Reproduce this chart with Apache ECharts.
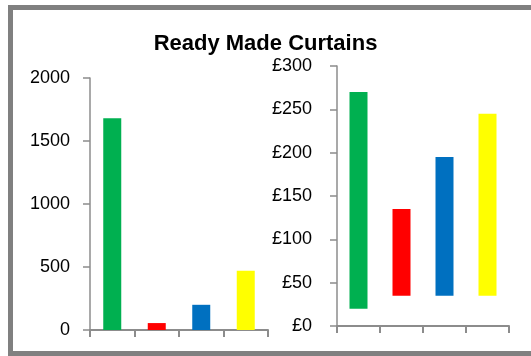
<!DOCTYPE html>
<html>
<head>
<meta charset="utf-8">
<script src="https://cdn.jsdelivr.net/npm/echarts@6/dist/echarts.min.js"></script>
<style>
  html, body { margin: 0; padding: 0; background: #fff; }
  #chart { width: 531px; height: 356px; }
</style>
</head>
<body>
<div id="chart"></div>
<script>
// Curtain categories (unlabelled on the axis) and their colours
const categories = ['A', 'B', 'C', 'D'];
const barColors = ['#00B050', '#FF0000', '#0070C0', '#FFFF00'];

// Left panel: quantities
const quantities = [1680, 55, 200, 470];
const qtyTicks = { min: 0, max: 2000, interval: 500 };

// Right panel: price ranges (low to high, in pounds)
const priceLow = [20, 35, 35, 35];
const priceHigh = [270, 135, 195, 245];
const priceTicks = { min: 0, max: 300, interval: 50 };

const priceSpan = priceHigh.map((h, i) => h - priceLow[i]);

const axisGray = '#8c8c8c';
const labelFont = { fontFamily: 'Liberation Sans, Arial, sans-serif', fontSize: 18, color: '#000' };

function yAxis(gridIndex, ticks, margin, formatter) {
  return {
    type: 'value', gridIndex,
    min: ticks.min, max: ticks.max, interval: ticks.interval,
    axisLine: { show: true, lineStyle: { color: axisGray, width: 1.5 } },
    axisTick: { show: true, length: 7, lineStyle: { color: axisGray, width: 1.5 } },
    splitLine: { show: false },
    axisLabel: Object.assign({ margin, formatter }, labelFont)
  };
}
function xAxis(gridIndex) {
  return {
    type: 'category', gridIndex, data: categories,
    axisLine: { show: true, lineStyle: { color: axisGray, width: 2 } },
    axisTick: { show: true, length: 7, alignWithLabel: false, lineStyle: { color: axisGray, width: 2 } },
    axisLabel: { show: false },
    splitLine: { show: false }
  };
}

const chart = echarts.init(document.getElementById('chart'), null, { renderer: 'canvas' });
chart.setOption({
  animation: false,
  backgroundColor: '#fff',
  title: {
    text: 'Ready Made Curtains',
    left: 'center', top: 28,
    textStyle: { fontFamily: 'Liberation Sans, Arial, sans-serif', fontWeight: 'bold', fontSize: 22, color: '#000' }
  },
  graphic: [{
    type: 'rect', silent: true, z: 100,
    shape: { x: 10.5, y: 7.5, width: 600, height: 346 },
    style: { fill: 'none', stroke: '#808080', lineWidth: 5 }
  }],
  grid: [
    { left: 90, right: 263, top: 78, bottom: 26 },
    { left: 337, right: 22, top: 66, bottom: 30 }
  ],
  xAxis: [xAxis(0), xAxis(1)],
  yAxis: [
    yAxis(0, qtyTicks, 20, v => String(v)),
    yAxis(1, priceTicks, 25, v => '£' + v)
  ],
  series: [
    {
      type: 'bar', xAxisIndex: 0, yAxisIndex: 0, barWidth: 18,
      data: quantities.map((v, i) => ({ value: v, itemStyle: { color: barColors[i] } }))
    },
    {
      type: 'bar', xAxisIndex: 1, yAxisIndex: 1, barWidth: 18, stack: 'price',
      itemStyle: { color: 'transparent' },
      data: priceLow
    },
    {
      type: 'bar', xAxisIndex: 1, yAxisIndex: 1, barWidth: 18, stack: 'price',
      data: priceSpan.map((v, i) => ({ value: v, itemStyle: { color: barColors[i] } }))
    }
  ]
});
</script>
</body>
</html>
